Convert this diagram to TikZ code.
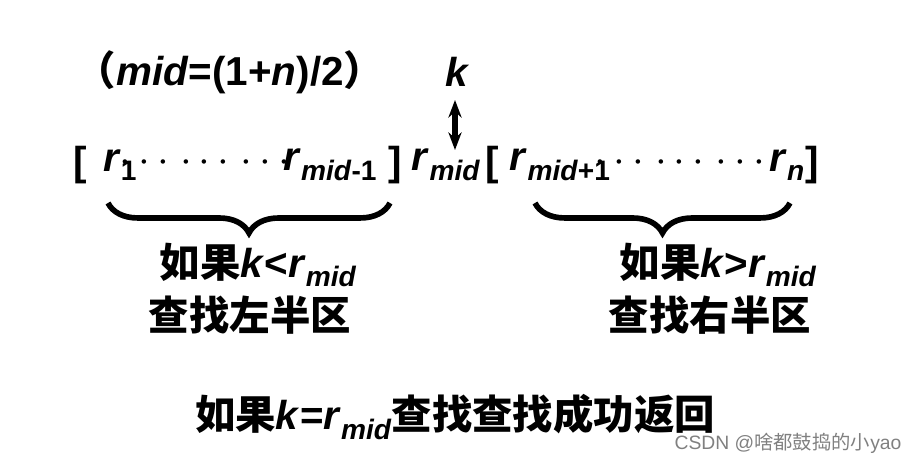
\documentclass[tikz,border=0pt]{standalone}
\usepackage{fontspec}
\setmainfont{Liberation Sans}
\newfontfamily\cjk{Noto Sans CJK SC}
\usetikzlibrary{positioning,decorations.pathreplacing,arrows.meta}
\newcommand{\hz}[1]{{\cjk\bfseries #1}}
\newcommand{\vi}[1]{\textbf{\textit{#1}}}
\newcommand{\sbx}[1]{\raisebox{-0.45ex}{\fontsize{8pt}{9pt}\selectfont\bfseries #1}}
\begin{document}
\begin{tikzpicture}[
    txt/.style = {
      inner sep = 0pt,
      font = \fontsize{11.5pt}{13pt}\selectfont\bfseries
    },
    brace/.style = {
      decorate,
      decoration = {brace, mirror, amplitude = 0.3cm},
      line width = 1.6pt
    },
    every path/.style = {
      thick
    }
  ]
    \useasboundingbox (0, 0) rectangle (9.14, 4.63);

    \node[txt] (mid) at (2.3, 3.91) {\hz{（}\vi{mid}=(1+\vi{n})/2\hz{）}};
    \node[txt] (k) at (4.58, 3.91) {\vi{k}};

    \node[txt] (lb) at (0.8, 2.98) {[};
    \node[txt] (r1) at (1.2, 2.98) {\vi{r}\sbx{1}};
    \node[txt] (ldots) at (2.05, 3.0) {$\cdots$\ $\cdots$\ $\cdots$};
    \node[txt] (rm1) at (3.3, 2.98) {\vi{r}\sbx{\textit{mid}-1}};
    \node[txt] (rbl) at (3.95, 2.98) {]};
    \node[txt] (rmid) at (4.46, 2.98) {\vi{r}\sbx{\textit{mid}}};
    \node[txt] (lbr) at (4.92, 2.98) {[};
    \node[txt] (rp1) at (5.6, 2.98) {\vi{r}\sbx{\textit{mid}+1}};
    \node[txt] (rdots) at (6.8, 3.0) {$\cdots$\ $\cdots$\ $\cdots$};
    \node[txt] (rn) at (7.87, 2.98) {\vi{r}\sbx{\textit{n}}};
    \node[txt] (rbr) at (8.12, 2.98) {]};

    \draw[{Stealth[length=5pt]}-{Stealth[length=5pt]}, line width=1.6pt]
      (4.55, 3.63) -- (4.55, 3.13);

    \coordinate (bl1) at (1.08, 2.6);
    \coordinate (bl2) at (3.9, 2.6);
    \coordinate (br1) at (5.35, 2.6);
    \coordinate (br2) at (7.9, 2.6);
    \draw[brace] (bl1) -- (bl2);
    \draw[brace] (br1) -- (br2);

    \node[txt] (ifl) at (2.58, 1.98) {\hz{如果}\vi{k}<\vi{r}\sbx{\textit{mid}}};
    \node[txt] (fl) at (2.5, 1.48) {\hz{查找左半区}};
    \node[txt] (ifr) at (7.18, 1.98) {\hz{如果}\vi{k}>\vi{r}\sbx{\textit{mid}}};
    \node[txt] (fr) at (7.1, 1.48) {\hz{查找右半区}};

    \node[txt] (eq) at (4.55, 0.46) {\hz{如果}\vi{k}=\vi{r}\sbx{\textit{mid}}\hz{查找查找成功返回}};
    \node[inner sep=0pt, text=gray, font=\fontsize{5.5pt}{6pt}\selectfont] (wm) at (7.88, 0.2) {CSDN @{\cjk 啥都鼓捣的小}yao};
  \end{tikzpicture}
\end{document}
